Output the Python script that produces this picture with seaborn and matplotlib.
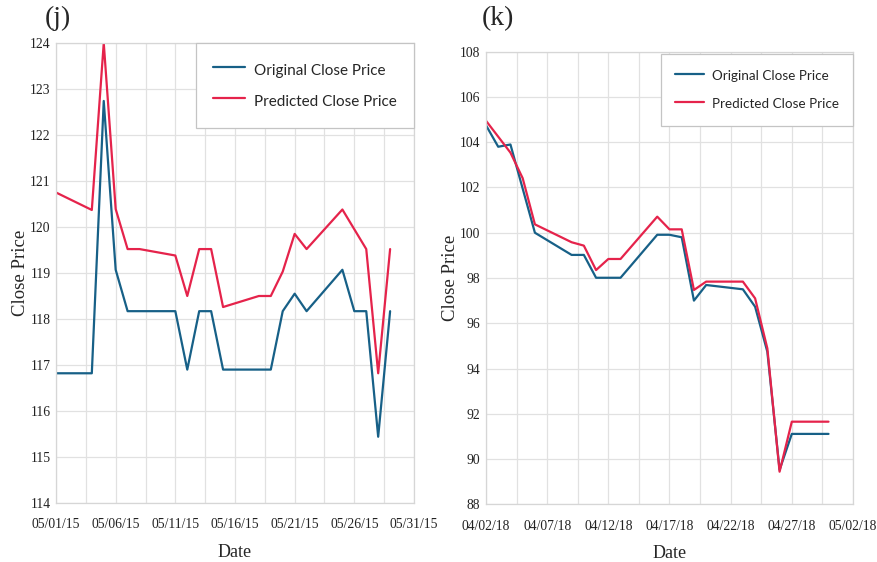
import seaborn as sns
import pandas as pd
import matplotlib.pyplot as plt
import matplotlib.dates as mdates
from matplotlib.ticker import FixedLocator

# --- Data ---
# (j) May 2015
j_orig_dates = ['2015-05-01', '2015-05-04', '2015-05-05', '2015-05-06', '2015-05-07', '2015-05-08',
                '2015-05-11', '2015-05-12', '2015-05-13', '2015-05-14', '2015-05-15', '2015-05-18',
                '2015-05-19', '2015-05-20', '2015-05-21', '2015-05-22', '2015-05-25', '2015-05-26',
                '2015-05-27', '2015-05-28', '2015-05-29']
j_orig_close = [116.82, 116.82, 122.74, 119.07, 118.17, 118.17, 118.17, 116.90, 118.17, 118.17, 116.90,
                116.90, 116.90, 118.17, 118.55, 118.17, 119.07, 118.17, 118.17, 115.44, 118.17]
j_pred_dates = ['2015-05-01', '2015-05-04', '2015-05-05', '2015-05-06', '2015-05-07', '2015-05-08',
                '2015-05-11', '2015-05-12', '2015-05-13', '2015-05-14', '2015-05-15', '2015-05-18',
                '2015-05-19', '2015-05-20', '2015-05-21', '2015-05-22', '2015-05-25', '2015-05-27',
                '2015-05-28', '2015-05-29']
j_pred_close = [120.75, 120.37, 124.00, 120.39, 119.52, 119.52, 119.38, 118.50, 119.52, 119.52, 118.26,
                118.50, 118.50, 119.03, 119.85, 119.52, 120.38, 119.52, 116.82, 119.52]

# (k) April 2018
k_orig_dates = ['2018-04-02', '2018-04-03', '2018-04-04', '2018-04-06', '2018-04-09', '2018-04-10',
                '2018-04-11', '2018-04-13', '2018-04-16', '2018-04-17', '2018-04-18', '2018-04-19',
                '2018-04-20', '2018-04-23', '2018-04-24', '2018-04-25', '2018-04-26', '2018-04-27',
                '2018-04-30']
k_orig_close = [104.75, 103.80, 103.90, 100.00, 99.02, 99.02, 98.01, 98.01, 99.91, 99.91, 99.80, 97.00,
                97.69, 97.50, 96.73, 94.74, 89.52, 91.11, 91.11]
k_pred_dates = ['2018-04-02', '2018-04-04', '2018-04-05', '2018-04-06', '2018-04-09', '2018-04-10',
                '2018-04-11', '2018-04-12', '2018-04-13', '2018-04-16', '2018-04-17', '2018-04-18',
                '2018-04-19', '2018-04-20', '2018-04-23', '2018-04-24', '2018-04-25', '2018-04-26',
                '2018-04-27', '2018-04-30']
k_pred_close = [104.95, 103.54, 102.41, 100.37, 99.58, 99.43, 98.35, 98.84, 98.84, 100.71, 100.15,
                100.15, 97.47, 97.84, 97.84, 97.10, 94.89, 89.44, 91.65, 91.65]

j_yticks = list(range(114, 125))
k_yticks = list(range(88, 109, 2))

blue = '#176087'
red = '#e5234b'
grid_c = '#e1e1e1'

sns.set_style('white')
plt.rcParams['font.family'] = 'Liberation Serif'

fig = plt.figure(figsize=(8.78, 5.62), dpi=100)
ax_j = fig.add_axes([0.0638, 0.105, 0.4077, 0.8185])
ax_k = fig.add_axes([0.5535, 0.1027, 0.418, 0.8053])


def draw(ax, od, oc, pd_, pc, start, yticks, leg_size, leg_anchor, leg_pad, leg_hh, leg_space):
    sns.lineplot(x=pd.to_datetime(od), y=oc, ax=ax, color=blue, lw=1.6, label='Original Close Price')
    sns.lineplot(x=pd.to_datetime(pd_), y=pc, ax=ax, color=red, lw=1.6, label='Predicted Close Price')

    majors = pd.date_range(start, periods=7, freq='5D')
    minors = pd.date_range(start, periods=13, freq='60h')
    ax.set_xlim(majors[0], majors[-1])
    ax.set_ylim(yticks[0], yticks[-1])
    ax.xaxis.set_major_locator(FixedLocator(mdates.date2num(majors)))
    ax.xaxis.set_minor_locator(FixedLocator(mdates.date2num(minors)))
    ax.xaxis.set_major_formatter(mdates.DateFormatter('%m/%d/%y'))
    ax.set_yticks(yticks)

    ax.grid(True, which='both', axis='x', color=grid_c, lw=0.9)
    ax.grid(True, which='major', axis='y', color=grid_c, lw=0.9)
    for s in ax.spines.values():
        s.set_color('#d6d6d6')
        s.set_linewidth(0.9)
    ax.tick_params(axis='x', which='major', length=7, width=0.9, color='#d0d0d0',
                   labelsize=9.8, pad=4)
    ax.tick_params(axis='x', which='minor', length=0)
    ax.tick_params(axis='y', length=0, labelsize=9.8, pad=4)
    for lab in ax.get_xticklabels() + ax.get_yticklabels():
        lab.set_color('#222222')

    ax.set_xlabel('Date', fontsize=13, labelpad=9)
    ax.set_ylabel('Close Price', fontsize=13.5, labelpad=0.5)

    leg = ax.legend(loc='upper right', bbox_to_anchor=leg_anchor, borderaxespad=0,
                    fancybox=False, framealpha=1, edgecolor='#c4c4c4',
                    prop={'family': 'Lato', 'size': leg_size},
                    handlelength=2.1, handletextpad=0.6, borderpad=leg_pad,
                    handleheight=leg_hh, labelspacing=leg_space)
    leg.get_frame().set_linewidth(0.9)


draw(ax_j, j_orig_dates, j_orig_close, j_pred_dates, j_pred_close, '2015-05-01',
     j_yticks, 11, (1.0, 1.0), 1.1, 1.7, 0.66)
draw(ax_k, k_orig_dates, k_orig_close, k_pred_dates, k_pred_close, '2018-04-02',
     k_yticks, 9.7, (1.0, 0.995), 1.05, 1.4, 0.9)

fig.text(0.051, 0.989, '(j)', fontsize=20, va='top', ha='left')
fig.text(0.549, 0.989, '(k)', fontsize=20, va='top', ha='left')

fig.savefig('out.png', dpi=100)
